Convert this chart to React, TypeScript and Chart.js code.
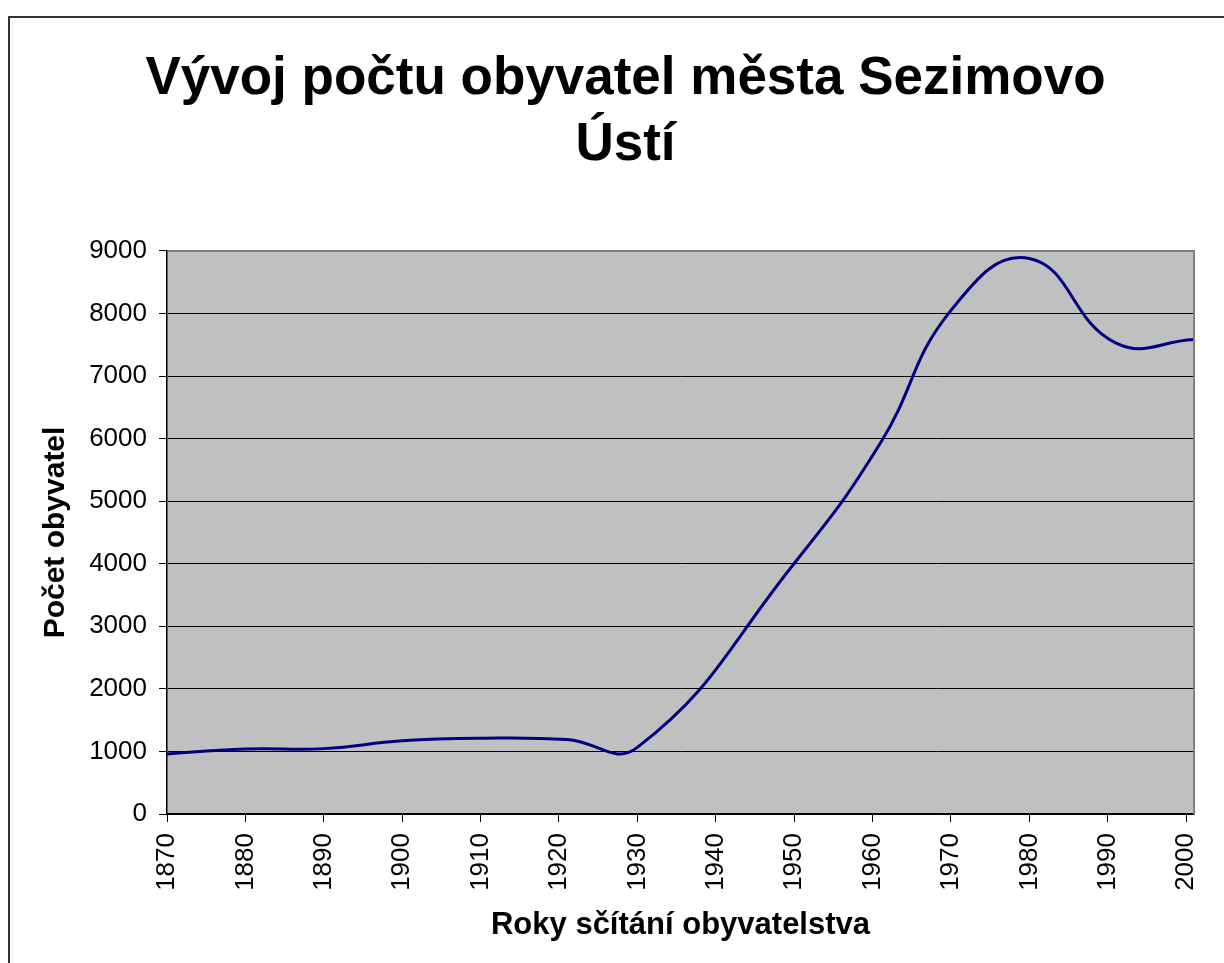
import React, { useEffect, useRef } from 'react';
import { Chart, registerables } from 'chart.js';

Chart.register(...registerables);

// Census years and population of Sezimovo Ústí
const YEARS = [1869, 1880, 1890, 1900, 1910, 1921, 1930, 1950, 1961, 1970, 1980, 1991, 2001];
const POPULATION = [950, 1040, 1045, 1170, 1212, 1192, 1064, 4005, 5930, 8050, 8880, 7530, 7584];

const X_TICKS = [1870, 1880, 1890, 1900, 1910, 1920, 1930, 1940, 1950, 1960, 1970, 1980, 1990, 2000];
const Y_TICKS = [0, 1000, 2000, 3000, 4000, 5000, 6000, 7000, 8000, 9000];

const TITLE_LINES = ['Vývoj počtu obyvatel města Sezimovo', 'Ústí'];
const X_TITLE = 'Roky sčítání obyvatelstva';
const Y_TITLE = 'Počet obyvatel';

const FONT = "'Liberation Sans', Arial, sans-serif";

export default function App() {
  const ref = useRef<HTMLCanvasElement>(null);

  useEffect(() => {
    document.documentElement.style.overflow = 'hidden';
    document.body.style.overflow = 'hidden';

    const plotFrame = {
      id: 'plotFrame',
      beforeDraw(chart: any) {
        const { ctx, chartArea } = chart;
        ctx.save();
        ctx.fillStyle = '#C0C0C0';
        ctx.fillRect(chartArea.left, chartArea.top, chartArea.right - chartArea.left, chartArea.bottom - chartArea.top);
        ctx.restore();
      },
      afterDraw(chart: any) {
        const { ctx, chartArea } = chart;
        ctx.save();
        ctx.strokeStyle = '#808080';
        ctx.lineWidth = 2;
        ctx.beginPath();
        ctx.moveTo(chartArea.left + 1, chartArea.top);
        ctx.lineTo(chartArea.right, chartArea.top);
        ctx.lineTo(chartArea.right, chartArea.bottom);
        ctx.stroke();
        ctx.restore();
      },
    };

    const chart = new Chart(ref.current as HTMLCanvasElement, {
      type: 'line',
      data: {
        datasets: [
          {
            data: YEARS.map((y, i) => ({ x: y, y: POPULATION[i] })),
            borderColor: '#000080',
            borderWidth: 3,
            pointRadius: 0,
            fill: false,
            tension: 0.45,
          },
        ],
      },
      options: {
        animation: false,
        responsive: false,
        maintainAspectRatio: false,
        devicePixelRatio: 1,
        layout: { padding: { left: 47, right: 50, top: 0, bottom: 0 } },
        plugins: {
          legend: { display: false },
          tooltip: { enabled: false },
          title: {
            display: true,
            text: TITLE_LINES,
            color: '#000',
            font: { family: FONT, size: 53, weight: 'bold', lineHeight: 1.245 },
            padding: { top: 28, bottom: 73 },
          },
        },
        scales: {
          x: {
            type: 'linear',
            position: 'bottom',
            min: 1870,
            max: 2001,
            afterBuildTicks: (scale: any) => {
              scale.ticks = X_TICKS.map((v) => ({ value: v }));
            },
            afterFit: (scale: any) => {
              scale.height = 150;
            },
            grid: {
              drawOnChartArea: false,
              drawTicks: true,
              tickLength: 8,
              color: '#000',
              lineWidth: 1,
            },
            border: { color: '#000', width: 1.5 },
            ticks: {
              autoSkip: false,
              minRotation: 90,
              maxRotation: 90,
              padding: 11,
              color: '#000',
              font: { family: FONT, size: 26 },
              callback: (v: any) => String(v),
            },
            title: {
              display: true,
              text: X_TITLE,
              color: '#000',
              font: { family: FONT, size: 31, weight: 'bold', lineHeight: 1.2 },
              padding: { top: 0, bottom: 20 },
            },
          },
          y: {
            type: 'linear',
            min: 0,
            max: 9000,
            afterBuildTicks: (scale: any) => {
              scale.ticks = Y_TICKS.map((v) => ({ value: v }));
            },
            afterFit: (scale: any) => {
              scale.width = 110;
            },
            grid: {
              color: '#000',
              lineWidth: 1,
              drawTicks: true,
              tickLength: 8,
            },
            border: { color: '#000', width: 1.5 },
            ticks: {
              padding: 12,
              color: '#000',
              font: { family: FONT, size: 26 },
              callback: (v: any) => String(v),
            },
            title: {
              display: true,
              text: Y_TITLE,
              color: '#000',
              font: { family: FONT, size: 30, weight: 'bold', lineHeight: 1.2 },
              padding: { top: -19, bottom: 0 },
            },
          },
        },
      },
      plugins: [plotFrame],
    } as any);

    return () => chart.destroy();
  }, []);

  return (
    <div
      style={{
        position: 'absolute',
        left: 8,
        top: 16,
        width: 1216,
        height: 947,
        borderTop: '2px solid #333',
        borderLeft: '2px solid #333',
        boxSizing: 'border-box',
        overflow: 'hidden',
        background: '#fff',
      }}
    >
      <canvas ref={ref} width={1234} height={946} style={{ display: 'block', width: 1234, height: 946 }} />
    </div>
  );
}
